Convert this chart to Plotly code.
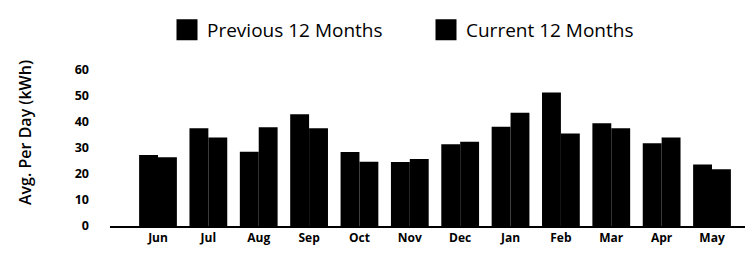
import plotly.graph_objects as go

months = ["Jun", "Jul", "Aug", "Sep", "Oct", "Nov", "Dec", "Jan", "Feb", "Mar", "Apr", "May"]
previous_12 = [27.3, 37.6, 28.6, 43.0, 28.5, 24.6, 31.4, 38.2, 51.3, 39.5, 31.8, 23.7]
current_12 = [26.4, 34.0, 38.0, 37.6, 24.7, 25.8, 32.4, 43.6, 35.6, 37.6, 34.0, 21.8]
y_ticks = [0, 10, 20, 30, 40, 50, 60]
series_names = ["Previous 12 Months", "Current 12 Months"]

FONT = "Open Sans"
BLACK = "#000000"

# the page body adds an 8px offset; the figure is sized to fill the rest
W, H = 745, 252
L, T, B = 102, 62, 34
PW, PH = W - L, H - T - B

fig = go.Figure()
for name, vals in zip(series_names, [previous_12, current_12]):
    fig.add_trace(go.Bar(name=name, x=months, y=vals, showlegend=False,
                         marker=dict(color=BLACK, line=dict(width=0))))
# legend proxies (larger square symbols)
for name in series_names:
    fig.add_trace(go.Scatter(name=name, x=[None], y=[None], mode="markers",
                             showlegend=True,
                             marker=dict(symbol="square", size=16, color=BLACK,
                                         line=dict(color=BLACK, width=5))))

fig.update_layout(
    width=W, height=H,
    margin=dict(l=L, r=0, t=T, b=B),
    paper_bgcolor="white", plot_bgcolor="white",
    barmode="group", bargap=0.25, bargroupgap=0,
    font=dict(family=FONT, color=BLACK),
    showlegend=True,
    legend=dict(orientation="h", x=159 / W, xanchor="left", y=1 - 22 / H, yanchor="middle",
                xref="container", yref="container",
                font=dict(size=19, family=FONT, color=BLACK),
                itemsizing="trace", entrywidth=214, entrywidthmode="pixels"),
    xaxis=dict(type="category", range=[-0.953, 11.814], showgrid=False,
               showline=True, linecolor=BLACK, linewidth=2, ticks="",
               automargin=False,
               tickfont=dict(size=12, family=FONT, color=BLACK, weight="bold")),
    yaxis=dict(range=[0, 60], tickvals=y_ticks, showgrid=False, zeroline=False,
               showline=False, ticks="", ticklabelstandoff=20, automargin=False,
               tickfont=dict(size=12.5, family=FONT, color=BLACK, weight="bold")),
    annotations=[dict(text="Avg. Per Day (kWh)", textangle=-90, showarrow=False,
                      xref="paper", yref="paper", x=(17 - L) / PW,
                      y=(218 - 125) / PH, xanchor="center", yanchor="middle",
                      font=dict(size=16, family=FONT, color=BLACK, weight=600))],
)

fig.write_html("out.html")
